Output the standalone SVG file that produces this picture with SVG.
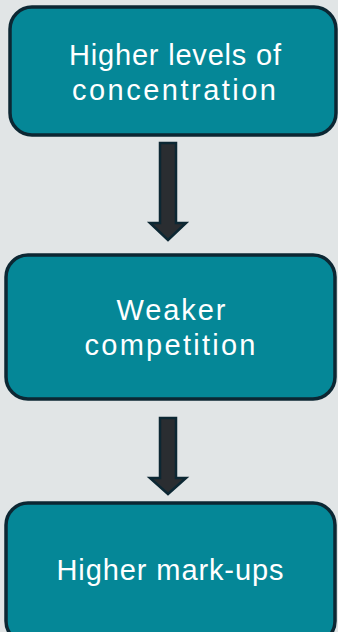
<svg xmlns="http://www.w3.org/2000/svg" width="338" height="632" viewBox="0 0 338 632">
<style>
.box{fill:#058797;stroke:#0c2733;stroke-width:3.5}
.t{fill:#ffffff;font-family:"Liberation Sans",Arial,sans-serif;font-size:29px;text-anchor:middle}
.arr{fill:#2a2d31;stroke:#0c2733;stroke-width:2.5;stroke-linejoin:miter}
</style>
<rect width="338" height="632" fill="#e1e5e6"/>
<g id="connectors">
<path class="arr" d="M160,143 H176 V223 H186 L168,240 L150,223 H160 Z"/>
<path class="arr" d="M160,418 H176 V478 H186 L168,494 L150,478 H160 Z"/>
</g>
<g id="node1">
<rect class="box" x="10" y="7" width="326" height="128" rx="22"/>
<text class="t" x="175" y="65" textLength="212" lengthAdjust="spacing">Higher levels of</text>
<text class="t" x="174" y="100" textLength="204" lengthAdjust="spacing">concentration</text>
</g>
<g id="node2">
<rect class="box" x="6" y="255" width="329" height="144" rx="22"/>
<text class="t" x="171" y="320" textLength="109" lengthAdjust="spacing">Weaker</text>
<text class="t" x="170" y="355" textLength="171" lengthAdjust="spacing">competition</text>
</g>
<g id="node3">
<rect class="box" x="6" y="503" width="329" height="140" rx="22"/>
<text class="t" x="170" y="580" textLength="227" lengthAdjust="spacing">Higher mark-ups</text>
</g>
</svg>
